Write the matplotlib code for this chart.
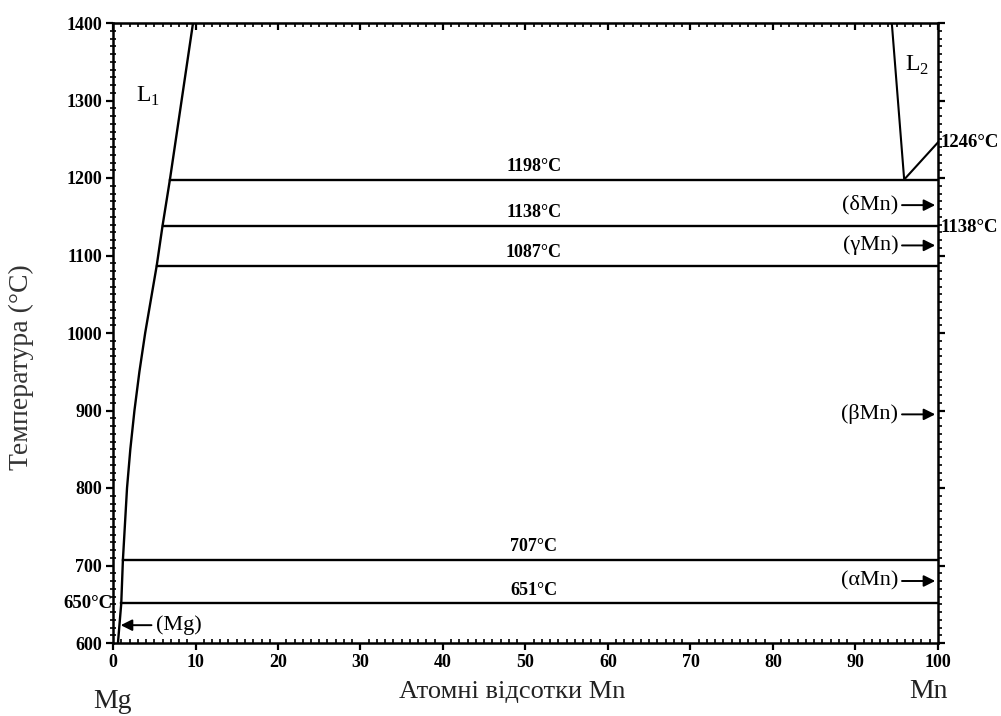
import matplotlib
matplotlib.use("Agg")
import matplotlib.pyplot as plt
from matplotlib.ticker import MultipleLocator

plt.rcParams['font.family'] = ['Liberation Serif', 'DejaVu Serif']

# liquidus on the Mg side (at.% Mn, °C)
l1_x = [0.6, 1.0, 1.2, 1.7, 2.1, 2.6, 3.2, 3.9, 5.3, 6.0, 6.9, 9.7]
l1_t = [600, 651, 707, 800, 850, 900, 950, 1000, 1087, 1138, 1198, 1400]

# liquidus on the Mn side
l2_x = [94.4, 95.9, 100.0]
l2_t = [1400, 1198, 1246]

# invariant horizontals: temperature and left end
iso_t = [1198, 1138, 1087, 707, 651]
iso_start = [6.9, 6.0, 5.3, 1.2, 1.0]
iso_lbl = ['1198°C', '1138°C', '1087°C', '707°C', '651°C']

# solid solution arrows on the Mn axis
mn_phases = ['(δMn)', '(γMn)', '(βMn)', '(αMn)']
mn_phase_t = [1165, 1113, 895, 680]

fig = plt.figure(figsize=(10.01, 7.16), dpi=100)
ax = fig.add_axes([113 / 1001, 73 / 716, 825 / 1001, 620 / 716])

ax.plot(l1_x, l1_t, color='black', lw=1.7)
ax.plot(l2_x, l2_t, color='black', lw=1.5)
for t, x0, s in zip(iso_t, iso_start, iso_lbl):
    ax.plot([x0, 100], [t, t], color='black', lw=1.7)
    ax.text(51, t + 6, s, ha='center', va='bottom', fontsize=13, fontweight='bold')

ax.set_xlim(0, 100)
ax.set_ylim(600, 1400)

ax.text(4.2, 1305, r'L$_\mathregular{1}$', fontsize=17, ha='center', va='center')
ax.text(97.4, 1345, r'L$_\mathregular{2}$', fontsize=17, ha='center', va='center')

for s, t in zip(mn_phases, mn_phase_t):
    ax.annotate('', xy=(100, t), xytext=(95.3, t),
                arrowprops=dict(arrowstyle='-|>', color='black', lw=1.4, mutation_scale=17))
    ax.text(95.2, t, s, ha='right', va='center', fontsize=16)

ax.annotate('', xy=(0.6, 623), xytext=(5.0, 623),
            arrowprops=dict(arrowstyle='-|>', color='black', lw=1.4, mutation_scale=17))
ax.text(5.2, 623, '(Mg)', ha='left', va='center', fontsize=16)

ax.text(100.3, 1246, '1246°C', ha='left', va='center', fontsize=13.5, fontweight='bold')
ax.text(100.3, 1136, '1138°C', ha='left', va='center', fontsize=13.5, fontweight='bold')
ax.text(-0.1, 651, '650°C', ha='right', va='center', fontsize=13.5, fontweight='bold')

ax.set_xticks(range(0, 101, 10))
ax.set_yticks(range(600, 1401, 100))
ax.xaxis.set_minor_locator(MultipleLocator(1))
ax.yaxis.set_minor_locator(MultipleLocator(10))
for lab in ax.get_xticklabels() + ax.get_yticklabels():
    lab.set_fontweight('bold')
ax.tick_params(which='major', direction='out', length=5, width=1.6, labelsize=13, pad=3)
ax.tick_params(which='minor', direction='in', length=3, width=1.2)
ax.tick_params(axis='y', which='minor', direction='inout', length=4)
for sp in ax.spines.values():
    sp.set_linewidth(1.8)

top = ax.secondary_xaxis('top')
top.set_xticks(range(0, 101, 10))
top.xaxis.set_minor_locator(MultipleLocator(1))
top.tick_params(which='major', direction='in', length=5, width=1.6, labeltop=False)
top.tick_params(which='minor', direction='in', length=3, width=1.2)

right = ax.secondary_yaxis('right')
right.set_yticks(range(600, 1401, 100))
right.yaxis.set_minor_locator(MultipleLocator(10))
right.tick_params(which='major', direction='out', length=5, width=1.6, labelright=False)
right.tick_params(which='minor', direction='out', length=3, width=1.2)

fig.text(21 / 1001, 1 - 367 / 716, 'Температура (°C)', rotation=90, ha='center', va='center',
         fontsize=20, color='#333333')
fig.text(512 / 1001, 1 - 692 / 716, 'Атомні відсотки Mn', ha='center', va='center',
         fontsize=19, color='#222222')
fig.text(112 / 1001, 1 - 701 / 716, 'Mg', ha='center', va='center', fontsize=20, color='#222222')
fig.text(928 / 1001, 1 - 692 / 716, 'Mn', ha='center', va='center', fontsize=20, color='#222222')

fig.savefig('out.png', dpi=100)
